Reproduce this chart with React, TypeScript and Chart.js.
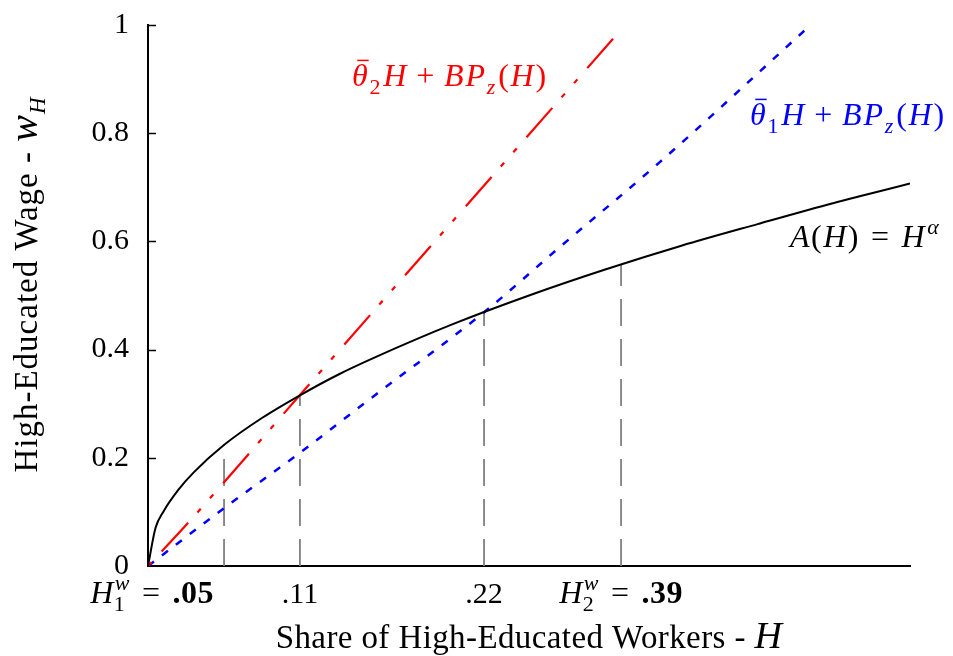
import React, { useEffect, useRef } from "react";
import { Chart, registerables } from "chart.js";

Chart.register(...registerables);

// ---- data ----
const curveX = [0, 0.005, 0.01, 0.02, 0.03, 0.05, 0.075, 0.1, 0.125, 0.15, 0.2, 0.25, 0.3, 0.35, 0.4, 0.45, 0.5];
const curveY = [0, 0.071, 0.1, 0.141, 0.173, 0.224, 0.274, 0.316, 0.354, 0.387, 0.447, 0.5, 0.548, 0.592, 0.632, 0.671, 0.707];

const theta1X = [0, 0.05, 0.1, 0.15, 0.2205, 0.27, 0.336, 0.434];
const theta1Y = [0, 0.107, 0.21, 0.318, 0.469, 0.589, 0.747, 0.998];

const theta2X = [0, 0.0264, 0.0997, 0.31];
const theta2Y = [0, 0.08, 0.316, 0.99];

const markerX = [0.0499, 0.0997, 0.2205, 0.3104];
const markerY = [0.223, 0.316, 0.469, 0.557];
const markerLabels = [".05", ".11", ".22", ".39"];

const yTicks = [0, 0.2, 0.4, 0.6, 0.8, 1];

// ---- rich text helper ----
const FAM = '"Liberation Serif", "Times New Roman", serif';
type F = "n" | "i" | "b";
type Seg = { t?: string; f?: F; size?: number; sub?: string; sup?: string; subF?: F; supF?: F; g?: number; bar?: boolean };

function fnt(f: string | undefined, size: number) {
  return `${f === "i" ? "italic " : ""}${f === "b" ? "bold " : ""}${size}px ${FAM}`;
}

function drawRich(
  ctx: CanvasRenderingContext2D,
  segs: Seg[],
  x: number,
  y: number,
  align: "left" | "center" | "right",
  color: string,
  base = 30,
  ls = 0
) {
  const c: any = ctx;
  ctx.save();
  c.letterSpacing = ls + "px";
  const items: { x: number; dy: number; font: string; t: string; bar?: number; size: number }[] = [];
  let cx = 0;
  for (const s of segs) {
    if (s.g !== undefined) {
      cx += s.g;
    } else if (s.sub !== undefined || s.sup !== undefined) {
      const ss = Math.round(base * 0.7);
      let w = 0;
      if (s.sub) {
        const f = fnt(s.subF ?? "n", ss);
        ctx.font = f;
        w = Math.max(w, ctx.measureText(s.sub).width);
        items.push({ x: cx, dy: base * 0.25, font: f, t: s.sub, size: ss });
      }
      if (s.sup) {
        const f = fnt(s.supF ?? "n", ss);
        ctx.font = f;
        w = Math.max(w, ctx.measureText(s.sup).width);
        items.push({ x: cx + 1, dy: -base * 0.42, font: f, t: s.sup, size: ss });
      }
      cx += w + 1;
    } else {
      const size = s.size ?? base;
      const f = fnt(s.f, size);
      ctx.font = f;
      const w = ctx.measureText(s.t || "").width;
      items.push({ x: cx, dy: 0, font: f, t: s.t || "", bar: s.bar ? w : undefined, size });
      cx += w;
    }
  }
  const x0 = align === "left" ? x : align === "center" ? x - cx / 2 : x - cx;
  ctx.fillStyle = color;
  ctx.strokeStyle = color;
  ctx.textBaseline = "alphabetic";
  ctx.textAlign = "left";
  for (const it of items) {
    ctx.font = it.font;
    ctx.fillText(it.t, x0 + it.x, y + it.dy);
    if (it.bar) {
      const by = y - it.size * 0.8;
      ctx.lineWidth = 1.5;
      ctx.beginPath();
      ctx.moveTo(x0 + it.x + it.bar * 0.3, by);
      ctx.lineTo(x0 + it.x + it.bar * 0.95, by);
      ctx.stroke();
    }
  }
  ctx.restore();
}

const seriesLabel = (k: string): Seg[] => [
  { t: "θ", f: "i", bar: true }, { sub: k }, { t: "H", f: "i" }, { g: 8 }, { t: "+", f: "n" }, { g: 8 },
  { t: "BP", f: "i" }, { sub: "z", subF: "i" }, { t: "(", f: "n" }, { t: "H", f: "i" }, { t: ")", f: "n" },
];
const label2 = seriesLabel("2");
const label1 = seriesLabel("1");
const labelA: Seg[] = [
  { t: "A", f: "i" }, { t: "(", f: "n" }, { t: "H", f: "i" }, { t: ")", f: "n" }, { g: 11 }, { t: "=", f: "n" }, { g: 11 }, { t: "H", f: "i" }, { sup: "α", supF: "i" },
];

const textPlugin = {
  id: "texts",
  afterDraw(chart: any) {
    const ctx: CanvasRenderingContext2D = chart.ctx;
    const xs = chart.scales.x;
    const ys = chart.scales.y;
    const area = chart.chartArea;

    // inward y tick marks
    ctx.save();
    ctx.strokeStyle = "#000";
    ctx.lineWidth = 1.5;
    for (const v of yTicks) {
      if (v === 0) continue;
      const py = Math.round(ys.getPixelForValue(v)) + 0.5;
      ctx.beginPath();
      ctx.moveTo(area.left, py);
      ctx.lineTo(area.left + 8, py);
      ctx.stroke();
    }
    ctx.restore();

    // x labels
    const by = 603;
    const p0 = xs.getPixelForValue(markerX[0]);
    drawRich(ctx, [{ t: "H", f: "i" }, { sub: "1", sup: "w", supF: "i" }, { g: 12 }, { t: "=", f: "n" }, { g: 12 }, { t: markerLabels[0], f: "b" }], p0 - 10, by, "right", "#000", 32, 0.5);
    drawRich(ctx, [{ t: markerLabels[1], f: "n" }], xs.getPixelForValue(markerX[1]), by, "center", "#000", 30);
    drawRich(ctx, [{ t: markerLabels[2], f: "n" }], xs.getPixelForValue(markerX[2]), by, "center", "#000", 30);
    drawRich(ctx, [{ t: "H", f: "i" }, { sub: "2", sup: "w", supF: "i" }, { g: 12 }, { t: "=", f: "n" }, { g: 12 }, { t: markerLabels[3], f: "b" }], xs.getPixelForValue(markerX[3]), by, "center", "#000", 32, 0.5);

    // axis titles
    drawRich(ctx, [{ t: "Share of High-Educated Workers - ", f: "n" }, { t: "H", f: "i", size: 38 }], (area.left + area.right) / 2, 648, "center", "#000", 33, 0.4);
    ctx.save();
    ctx.translate(37, 284);
    ctx.rotate(-Math.PI / 2);
    drawRich(ctx, [{ t: "High-Educated Wage - ", f: "n" }, { t: "w", f: "i", size: 40 }, { sub: "H", subF: "i" }], 0, 0, "center", "#000", 33, 1);
    ctx.restore();

    // series labels
    drawRich(ctx, label2, 450, 86, "center", "#ff0000", 32, 1.8);
    drawRich(ctx, label1, 848, 125, "center", "#0000ff", 32, 1.8);
    drawRich(ctx, labelA, 790, 247, "left", "#000", 32, 1.5);
  },
};

const mk = (xs: number[], ys: number[]) => xs.map((x, i) => ({ x, y: ys[i] }));

export default function App() {
  const ref = useRef<HTMLCanvasElement>(null);
  useEffect(() => {
    if (!ref.current) return;
    const markers = markerX.map((mx, i) => ({
      data: [{ x: mx, y: 0 }, { x: mx, y: markerY[i] }],
      borderColor: "#808080",
      borderWidth: 1.8,
      borderDash: [27, 13],
      pointRadius: 0,
      order: 10,
    }));
    const chart = new Chart(ref.current, {
      type: "line",
      data: {
        datasets: [
          { data: mk(curveX, curveY), borderColor: "#000", borderWidth: 2, pointRadius: 0, cubicInterpolationMode: "monotone", order: 1 } as any,
          { data: mk(theta2X, theta2Y), borderColor: "#ff0000", borderWidth: 2.2, borderDash: [5, 15, 39, 14, 5, 14], pointRadius: 0, cubicInterpolationMode: "monotone", order: 2 } as any,
          { data: mk(theta1X, theta1Y), borderColor: "#0000ff", borderWidth: 2.5, borderDash: [7.5, 10], pointRadius: 0, cubicInterpolationMode: "monotone", order: 3 } as any,
          ...markers,
        ],
      },
      options: {
        animation: false,
        responsive: false,
        maintainAspectRatio: false,
        layout: { padding: { top: 25, right: 43, left: 0, bottom: 0 } },
        plugins: { legend: { display: false }, tooltip: { enabled: false } },
        scales: {
          x: {
            type: "linear",
            min: 0,
            max: 0.5,
            ticks: { display: false },
            grid: { display: true, drawOnChartArea: false, drawTicks: false },
            border: { display: true, color: "#000", width: 2 },
            afterFit: (s: any) => { s.height = 90; },
          },
          y: {
            type: "linear",
            min: 0,
            max: 1,
            afterBuildTicks: (s: any) => { s.ticks = yTicks.map((v) => ({ value: v })); },
            ticks: {
              color: "#000",
              padding: 19,
              font: { family: FAM, size: 30, lineHeight: 0.3 },
              callback: (v: any) => (v === 0 || v === 1 ? String(v) : Number(v).toFixed(1)),
            },
            grid: { display: true, drawOnChartArea: false, drawTicks: false },
            border: { display: true, color: "#000", width: 2 },
            afterFit: (s: any) => { s.width = 148; },
          },
        },
      } as any,
      plugins: [textPlugin],
    });
    return () => chart.destroy();
  }, []);
  return (
    <div style={{ position: "fixed", left: 0, top: 0, width: 953, height: 656, background: "#fff" }}>
      <canvas ref={ref} width={953} height={656} style={{ display: "block" }} />
    </div>
  );
}
